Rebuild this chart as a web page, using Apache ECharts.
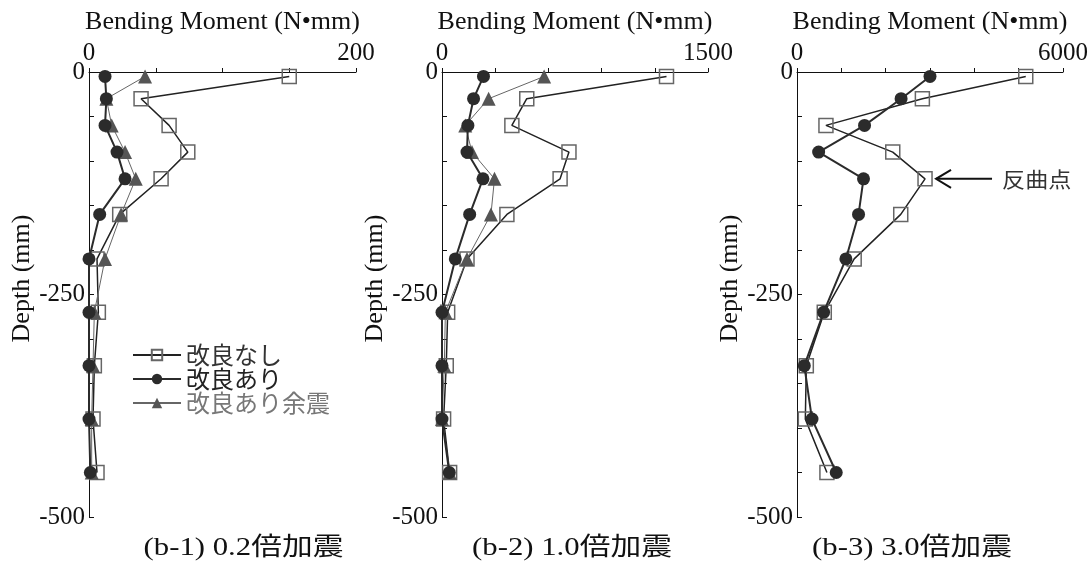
<!DOCTYPE html>
<html>
<head>
<meta charset="utf-8">
<script src="https://cdn.jsdelivr.net/npm/echarts@6/dist/echarts.min.js"></script>
<style>
  html, body { margin: 0; padding: 0; background: #fff; }
  #chart { width: 1092px; height: 568px; }
</style>
</head>
<body>
<div id="chart"></div>
<script>
// depth of each measuring point (mm)
const depths = [-5, -30, -60, -90, -120, -160, -210, -270, -330, -390, -450]

// (b-1) 0.2倍加震
const b1None = [150, 39, 60, 74, 54, 23, 6, 7, 4, 3, 6]
const b1With = [12, 13, 12, 21, 27, 8, 0, 0, 0, 0, 1]
const b1After = [42, 13, 17, 27, 35, 24, 12, 4, 3, 2, 2]
// (b-2) 1.0倍加震
const b2None = [1266, 478, 394, 716, 666, 366, 141, 32, 24, 9, 43]
const b2With = [234, 178, 146, 141, 231, 156, 75, 0, 0, 0, 41]
const b2After = [576, 263, 131, 169, 296, 276, 141, 19, 13, 0, 43]
// (b-3) 3.0倍加震
const b3None = [5160, 2828, 653, 2160, 2888, 2340, 1290, 615, 210, 188, 675]
const b3With = [3000, 2348, 1523, 488, 1500, 1388, 1103, 600, 165, 338, 885]

const xMax = [200, 1500, 6000]
const xStep = [50, 300, 1000]
const captions = ['(b-1) 0.2倍加震', '(b-2) 1.0倍加震', '(b-3) 3.0倍加震']
const names = ['改良なし', '改良あり', '改良あり余震']
const inflection = { panel: 2, depth: -120, value: 2888, label: '反曲点' }

const serif = '"Liberation Serif", "Noto Sans CJK JP", serif'
const gothic = '"Noto Sans CJK JP", sans-serif'

const pair = (vals) => vals.map((v, i) => [v, depths[i]])

const grids = [
  { left: 89, top: 72, width: 267, height: 445 },
  { left: 442, top: 72, width: 266, height: 445 },
  { left: 797, top: 72, width: 266, height: 445 }
]

const xAxes = grids.map((g, i) => ({
  type: 'value',
  gridIndex: i,
  position: 'top',
  min: 0,
  max: xMax[i],
  interval: xStep[i],
  name: 'Bending Moment (N\u2022mm)',
  nameLocation: 'middle',
  nameGap: 37,
  nameTextStyle: { fontFamily: serif, fontSize: 26, color: '#111' },
  axisLine: { onZero: false, lineStyle: { color: '#111', width: 1 } },
  axisTick: { length: 4, lineStyle: { color: '#111' } },
  axisLabel: {
    fontFamily: serif, fontSize: 25, color: '#111', margin: 6,
    formatter: (v) => (v === 0 || v === xMax[i]) ? String(v) : ''
  },
  splitLine: { show: false }
}))

const yAxes = grids.map((g, i) => ({
  type: 'value',
  gridIndex: i,
  min: -500,
  max: 0,
  interval: 50,
  name: 'Depth (mm)',
  nameLocation: 'middle',
  nameGap: 54,
  nameTextStyle: { fontFamily: serif, fontSize: 26, color: '#111', padding: [0, 0, 0, 32] },
  axisLine: { onZero: false, lineStyle: { color: '#111', width: 1 } },
  axisTick: { inside: true, length: 5, lineStyle: { color: '#111' } },
  axisLabel: {
    fontFamily: serif, fontSize: 25, color: '#111', margin: 4,
    formatter: (v) => (v % 250 === 0) ? String(v) : ''
  },
  splitLine: { show: false }
}))

const noneSeries = (data, i) => ({
  name: names[0], type: 'line', xAxisIndex: i, yAxisIndex: i, data: pair(data),
  symbol: 'rect', symbolSize: 14, z: 2,
  itemStyle: { color: 'rgba(255,255,255,0)', borderColor: '#666', borderWidth: 1.5 },
  lineStyle: { color: '#222', width: 1.5 }
})
const withSeries = (data, i) => ({
  name: names[1], type: 'line', xAxisIndex: i, yAxisIndex: i, data: pair(data),
  symbol: 'circle', symbolSize: 13, z: 4,
  itemStyle: { color: '#2b2b2b' },
  lineStyle: { color: '#2b2b2b', width: 2 }
})
const afterSeries = (data, i) => ({
  name: names[2], type: 'line', xAxisIndex: i, yAxisIndex: i, data: pair(data),
  symbol: 'triangle', symbolSize: 14, z: 3,
  itemStyle: { color: '#555' },
  lineStyle: { color: '#666', width: 1 }
})

const series = [
  noneSeries(b1None, 0), withSeries(b1With, 0), afterSeries(b1After, 0),
  noneSeries(b2None, 1), withSeries(b2With, 1), afterSeries(b2After, 1),
  noneSeries(b3None, 2), withSeries(b3With, 2)
]

const chart = echarts.init(document.getElementById('chart'))
chart.setOption({
  animation: false,
  backgroundColor: '#fff',
  grid: grids,
  xAxis: xAxes,
  yAxis: yAxes,
  legend: {
    left: 127,
    top: 338,
    orient: 'vertical',
    itemWidth: 48,
    itemHeight: 13,
    itemGap: 0,
    selectedMode: false,
    data: [
      { name: names[0], textStyle: { color: '#333' } },
      { name: names[1], textStyle: { color: '#222' } },
      { name: names[2], textStyle: { color: '#777' } }
    ],
    textStyle: { fontFamily: gothic, fontSize: 24, lineHeight: 23.3 }
  },
  series: series
})

// captions and the inflection-point note, placed from the axes
const graphics = captions.map((c, i) => ({
  type: 'text',
  x: grids[i].left + grids[i].width / 2 + (i === 0 ? 21 : i === 1 ? -3 : -18),
  y: 548,
  scaleX: 1.23,
  style: { text: c, font: '25px ' + serif, fill: '#111', textAlign: 'center', verticalAlign: 'middle' }
}))
const p = chart.convertToPixel({ gridIndex: inflection.panel }, [inflection.value, inflection.depth])
const ax = p[0] + 11, ay = p[1]
graphics.push(
  { type: 'line', shape: { x1: ax, y1: ay, x2: ax + 56, y2: ay }, style: { stroke: '#111', lineWidth: 2 } },
  { type: 'polyline', shape: { points: [[ax + 15, ay - 9], [ax, ay], [ax + 15, ay + 9]] }, style: { stroke: '#111', lineWidth: 2, fill: 'none' } },
  { type: 'text', x: ax + 66, y: ay, scaleX: 1.1, style: { text: inflection.label, font: '21px ' + gothic, fill: '#333', verticalAlign: 'middle', textAlign: 'left' } }
)
chart.setOption({ graphic: graphics })
</script>
</body>
</html>
